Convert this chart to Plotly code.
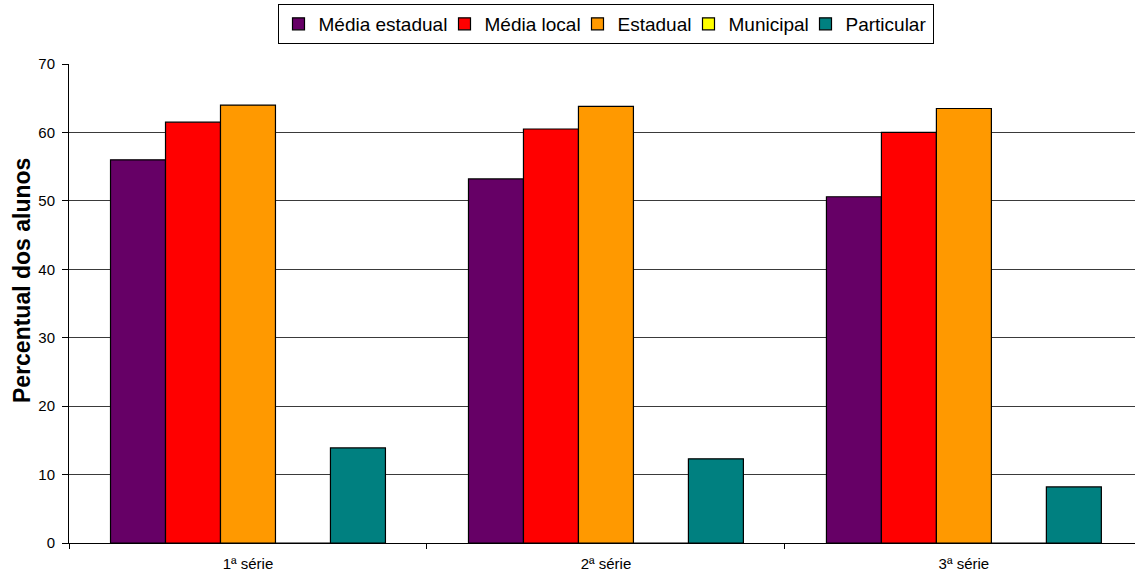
import plotly.graph_objects as go

categories = ["1ª série", "2ª série", "3ª série"]
series_names = ["Média estadual", "Média local", "Estadual", "Municipal", "Particular"]
media_estadual = [56.0, 53.2, 50.6]
media_local = [61.5, 60.5, 60.0]
estadual = [64.0, 63.8, 63.5]
municipal = [0, 0, 0]
particular = [13.9, 12.3, 8.2]
colors = ["#660066", "#FF0000", "#FF9900", "#FFFF00", "#008080"]
legend_widths = [121, 88, 66, 72, 82]

values = [media_estadual, media_local, estadual, municipal, particular]

fig = go.Figure()
for name, vals, col, lw in zip(series_names, values, colors, legend_widths):
    fig.add_trace(go.Bar(
        x=categories, y=vals, name=name, legendwidth=lw,
        marker=dict(color=col, line=dict(color="black", width=1.2)),
    ))

fig.update_layout(
    width=1135, height=574,
    barmode="group", bargap=0.232, bargroupgap=0,
    plot_bgcolor="white", paper_bgcolor="white",
    margin=dict(l=69, r=0, t=64, b=31),
    font=dict(family="Liberation Sans, Arial, sans-serif", color="black"),
    legend=dict(
        orientation="h", x=605.5 / 1135, xanchor="center", xref="container",
        y=1 - 4 / 574, yanchor="top", yref="container",
        bordercolor="black", borderwidth=1,
        font=dict(size=19, color="black"),
        itemwidth=30, tracegroupgap=0,
    ),
    xaxis=dict(
        range=[-0.5, 2.478], showline=True, linecolor="black", linewidth=1,
        ticks="outside", tickson="boundaries", ticklen=5, tickcolor="black",
        ticklabelstandoff=7,
        tickfont=dict(size=15), showgrid=False,
    ),
    yaxis=dict(
        range=[0, 70], dtick=10, showline=True, linecolor="black", linewidth=1,
        ticks="outside", ticklen=6, tickcolor="black", ticklabelstandoff=4,
        tickfont=dict(size=15),
        showgrid=True, gridcolor="#3a3a3a", gridwidth=1,
        zeroline=False,
    ),
    annotations=[dict(
        text="<b>Percentual dos alunos</b>", textangle=-90,
        xref="paper", yref="paper", x=(22 - 69) / 1066, y=(543 - 281) / 479,
        xanchor="center", yanchor="middle", showarrow=False,
        font=dict(size=23, color="black"),
    )],
)

fig.write_html("out.html", config={"displayModeBar": False},
               post_script="document.body.style.margin='0';")
